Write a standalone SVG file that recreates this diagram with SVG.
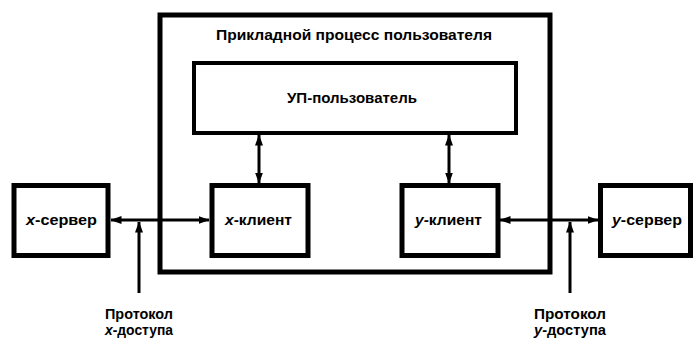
<svg xmlns="http://www.w3.org/2000/svg" width="693" height="341" viewBox="0 0 693 341">
<defs>
<style>
.box{fill:none;stroke:#000;stroke-width:5}
.outer{fill:none;stroke:#000;stroke-width:5}
.inner{fill:none;stroke:#000;stroke-width:4}
.con{fill:none;stroke:#000;stroke-width:3}
text{font-family:"Liberation Sans",Arial,sans-serif;font-weight:bold;font-size:15px;fill:#000;text-anchor:middle}
</style>
<marker id="ah" viewBox="0 0 11 8" refX="10.5" refY="4" markerWidth="11" markerHeight="8" markerUnits="userSpaceOnUse" orient="auto-start-reverse">
<path d="M0,0 L11,4 L0,8 z" fill="#000"/>
</marker>
</defs>
<rect width="693" height="341" fill="#fff"/>
<g id="app-process">
<rect class="outer" x="160" y="15" width="390" height="257"/>
<text x="354" y="40" textLength="276" lengthAdjust="spacingAndGlyphs">Прикладной процесс пользователя</text>
</g>
<g id="up-user">
<rect class="inner" x="194" y="63" width="322" height="70"/>
<text x="352" y="103" textLength="130" lengthAdjust="spacingAndGlyphs">УП-пользователь</text>
</g>
<g id="x-server">
<rect class="box" x="14" y="185.5" width="94" height="70"/>
<text x="61.5" y="225" textLength="71" lengthAdjust="spacingAndGlyphs"><tspan font-style="italic">x</tspan>-сервер</text>
</g>
<g id="x-client">
<rect class="box" x="212" y="185.5" width="96" height="70"/>
<text x="258.5" y="225" textLength="67" lengthAdjust="spacingAndGlyphs"><tspan font-style="italic">x</tspan>-клиент</text>
</g>
<g id="y-client">
<rect class="box" x="402" y="185.5" width="96" height="70"/>
<text x="448.5" y="225" textLength="67" lengthAdjust="spacingAndGlyphs"><tspan font-style="italic">y</tspan>-клиент</text>
</g>
<g id="y-server">
<rect class="box" x="600.5" y="185.5" width="90" height="70"/>
<text x="647" y="225" textLength="70" lengthAdjust="spacingAndGlyphs"><tspan font-style="italic">y</tspan>-сервер</text>
</g>
<g id="x-protocol-label">
<text x="139" y="319" textLength="68" lengthAdjust="spacingAndGlyphs">Протокол</text>
<text x="139" y="335" textLength="68" lengthAdjust="spacingAndGlyphs"><tspan font-style="italic">x</tspan>-доступа</text>
</g>
<g id="y-protocol-label">
<text x="570" y="319" textLength="72" lengthAdjust="spacingAndGlyphs">Протокол</text>
<text x="570" y="335" textLength="72" lengthAdjust="spacingAndGlyphs"><tspan font-style="italic">y</tspan>-доступа</text>
</g>
<g id="connectors">
<line class="con" x1="111" y1="220" x2="209" y2="220" marker-start="url(#ah)" marker-end="url(#ah)"/>
<line class="con" x1="500" y1="220" x2="598" y2="220" marker-start="url(#ah)" marker-end="url(#ah)"/>
<line class="con" x1="259" y1="135" x2="259" y2="183" marker-start="url(#ah)" marker-end="url(#ah)"/>
<line class="con" x1="449" y1="135" x2="449" y2="183" marker-start="url(#ah)" marker-end="url(#ah)"/>
<line class="con" x1="139" y1="293" x2="139" y2="222" marker-end="url(#ah)"/>
<line class="con" x1="570" y1="293" x2="570" y2="222" marker-end="url(#ah)"/>
</g>
</svg>
